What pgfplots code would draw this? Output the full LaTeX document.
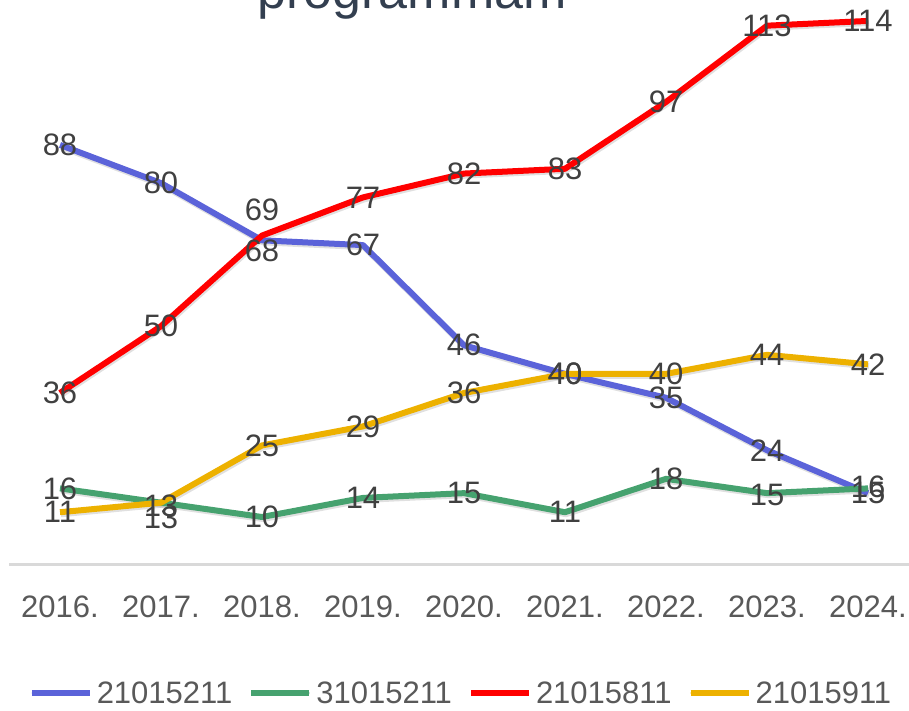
\documentclass[border=0pt]{standalone}
\usepackage{pgfplots}
\pgfplotsset{compat=1.18}
\usepackage{pgfplotstable}
\usepackage{fontspec}
\setmainfont{Liberation Sans}
\definecolor{cblue}{HTML}{5B63D9}
\definecolor{cgreen}{HTML}{46A26F}
\definecolor{cred}{HTML}{FF0000}
\definecolor{cyellow}{HTML}{EDB100}
\definecolor{lbl}{HTML}{404040}
\definecolor{tickgray}{HTML}{595959}
\definecolor{axgray}{HTML}{D9D9D9}
\definecolor{titlecol}{HTML}{333F50}

\pgfplotstableread{
x y dy
0 88 0
1 80 0
2 68 -10
3 67 0
4 46 0
5 40 0
6 35 0
7 24 0
8 15 0
}\blueT
\pgfplotstableread{
x y dy
0 16 0
1 13 -15
2 10 0
3 14 0
4 15 0
5 11 0
6 18 0
7 15 -2
8 16 2
}\greenT
\pgfplotstableread{
x y dy
0 36 0
1 50 0
2 69 26
3 77 0
4 82 0
5 83 0
6 97 0
7 113 0
8 114 0
}\redT
\pgfplotstableread{
x y dy
0 11 0
1 13 -3
2 25 0
3 29 0
4 36 0
5 40 0
6 40 0
7 44 0
8 42 0
}\yellowT

\pgfplotsset{lblstyle/.style={forget plot, draw=none, mark=none, nodes near coords, point meta=y,
  visualization depends on={\thisrow{dy}\as\dy},
  nodes near coords style={anchor=center, inner sep=0pt, text=lbl, font=\fontsize{31}{37}\selectfont, yshift=\dy pt}},
  shadowstyle/.style={forget plot, draw=black, opacity=0.12, line width=6pt, xshift=1pt, yshift=-2pt}}

\begin{document}
\begin{tikzpicture}
\node[anchor=base, font=\fontsize{52}{60}\selectfont, text=titlecol] at (412pt,702pt) {programmam};
\begin{axis}[
  at={(9.5pt,146.3pt)}, anchor=south west,
  width=909pt, height=572.4pt, scale only axis,
  xmin=-0.5, xmax=8.5, ymin=0, ymax=120,
  axis x line=bottom, axis y line=none,
  x axis line style={-, draw=axgray, line width=2.5pt},
  xtick={0,1,2,3,4,5,6,7,8},
  xticklabels={2016.,2017.,2018.,2019.,2020.,2021.,2022.,2023.,2024.},
  major tick length=0pt,
  xticklabel style={font=\fontsize{31}{37}\selectfont, text=tickgray, inner sep=0pt, yshift=-31pt},
  ytick=\empty,
  /pgf/number format/assume math mode=true,
  legend columns=4,
  legend style={at={(0.4967,-0.2241)}, anchor=center, draw=none, fill=none,
    font=\fontsize{31}{37}\selectfont, text=tickgray,
    /tikz/every odd column/.style={column sep=2pt},
    /tikz/every even column/.style={column sep=14pt},
    cells={anchor=west, inner sep=0pt}},
  legend image code/.code={\draw[#1, line width=6pt, line cap=round] (3pt,0pt) -- (55pt,0pt); \path (0pt,0pt) -- (58pt,0pt);},
  every axis plot/.append style={line join=round},
]
% shadows
\addplot[shadowstyle] table[x=x,y=y]{\blueT};
\addplot[shadowstyle] table[x=x,y=y]{\greenT};
\addplot[shadowstyle] table[x=x,y=y]{\redT};
\addplot[shadowstyle] table[x=x,y=y]{\yellowT};
% lines
\addplot[draw=cblue, line width=6pt] table[x=x,y=y]{\blueT};
\addplot[draw=cgreen, line width=6pt] table[x=x,y=y]{\greenT};
\addplot[draw=cred, line width=6pt] table[x=x,y=y]{\redT};
\addplot[draw=cyellow, line width=6pt] table[x=x,y=y]{\yellowT};
\legend{21015211,31015211,21015811,21015911}
% labels
\addplot[lblstyle] table[x=x,y=y]{\blueT};
\addplot[lblstyle] table[x=x,y=y]{\greenT};
\addplot[lblstyle] table[x=x,y=y]{\redT};
\addplot[lblstyle] table[x=x,y=y]{\yellowT};
\end{axis}
\pgfresetboundingbox
\useasboundingbox (0pt,0pt) rectangle (909pt,711pt);
\end{tikzpicture}
\end{document}
